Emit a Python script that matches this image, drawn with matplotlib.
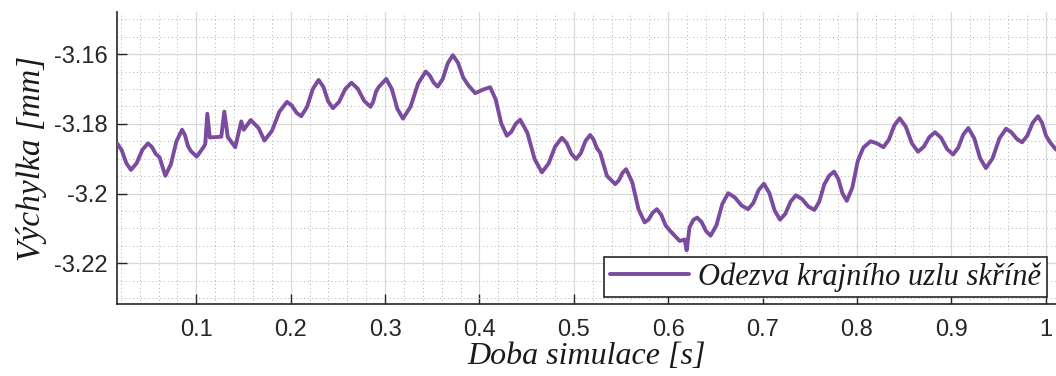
import matplotlib
matplotlib.use("Agg")
import matplotlib.pyplot as plt
from matplotlib.ticker import MultipleLocator, FixedLocator, FixedFormatter

# Simulated response of the cabinet's end node
time_s = [
    0.0160, 0.0209, 0.0259, 0.0308, 0.0368, 0.0428, 0.0488, 0.0529, 0.0570,
    0.0611, 0.0672, 0.0731, 0.0790, 0.0849, 0.0880, 0.0911, 0.0942, 0.1005,
    0.1074, 0.1095, 0.1117, 0.1143, 0.1265, 0.1297, 0.1334, 0.1413, 0.1477,
    0.1503, 0.1577, 0.1660, 0.1722, 0.1802, 0.1881, 0.1961, 0.2011, 0.2062,
    0.2112, 0.2173, 0.2235, 0.2296, 0.2347, 0.2397, 0.2448, 0.2513, 0.2579,
    0.2644, 0.2711, 0.2779, 0.2846, 0.2874, 0.2903, 0.2931, 0.3013, 0.3072,
    0.3131, 0.3190, 0.3270, 0.3351, 0.3431, 0.3473, 0.3516, 0.3558, 0.3612,
    0.3665, 0.3719, 0.3774, 0.3830, 0.3885, 0.3956, 0.4035, 0.4114, 0.4173,
    0.4232, 0.4291, 0.4338, 0.4385, 0.4432, 0.4509, 0.4585, 0.4662, 0.4733,
    0.4803, 0.4874, 0.4924, 0.4975, 0.5025, 0.5075, 0.5124, 0.5174, 0.5209,
    0.5245, 0.5280, 0.5351, 0.5439, 0.5478, 0.5516, 0.5555, 0.5620, 0.5686,
    0.5751, 0.5794, 0.5837, 0.5880, 0.5927, 0.5974, 0.6021, 0.6122, 0.6175,
    0.6196, 0.6226, 0.6266, 0.6307, 0.6355, 0.6402, 0.6450, 0.6512, 0.6574,
    0.6636, 0.6706, 0.6777, 0.6847, 0.6903, 0.6959, 0.7015, 0.7072, 0.7129,
    0.7186, 0.7242, 0.7298, 0.7354, 0.7419, 0.7485, 0.7550, 0.7602, 0.7654,
    0.7706, 0.7758, 0.7803, 0.7848, 0.7893, 0.7952, 0.8010, 0.8069, 0.8145,
    0.8213, 0.8281, 0.8338, 0.8396, 0.8453, 0.8518, 0.8583, 0.8648, 0.8708,
    0.8768, 0.8828, 0.8892, 0.8955, 0.9019, 0.9073, 0.9127, 0.9181, 0.9243,
    0.9305, 0.9367, 0.9438, 0.9510, 0.9581, 0.9637, 0.9694, 0.9750, 0.9806,
    0.9863, 0.9919, 0.9962, 1.0004, 1.0047, 1.0110,
]
displacement_mm = [
    -3.1856, -3.1875, -3.1913, -3.1932, -3.1913, -3.1875, -3.1856, -3.1866, -3.1886,
    -3.1896, -3.1949, -3.1916, -3.1850, -3.1817, -3.1832, -3.1863, -3.1878, -3.1894,
    -3.1868, -3.1858, -3.1771, -3.1839, -3.1837, -3.1765, -3.1838, -3.1867, -3.1793,
    -3.1817, -3.1789, -3.1812, -3.1848, -3.1820, -3.1765, -3.1737, -3.1747, -3.1768,
    -3.1778, -3.1752, -3.1700, -3.1674, -3.1694, -3.1735, -3.1755, -3.1737, -3.1700,
    -3.1682, -3.1699, -3.1734, -3.1751, -3.1737, -3.1709, -3.1695, -3.1671, -3.1700,
    -3.1757, -3.1785, -3.1751, -3.1684, -3.1650, -3.1661, -3.1682, -3.1693, -3.1671,
    -3.1626, -3.1603, -3.1625, -3.1668, -3.1690, -3.1712, -3.1702, -3.1695, -3.1730,
    -3.1799, -3.1834, -3.1823, -3.1800, -3.1788, -3.1826, -3.1901, -3.1939, -3.1914,
    -3.1865, -3.1840, -3.1855, -3.1886, -3.1901, -3.1884, -3.1849, -3.1832, -3.1845,
    -3.1870, -3.1883, -3.1949, -3.1973, -3.1962, -3.1941, -3.1930, -3.1968, -3.2045,
    -3.2083, -3.2074, -3.2055, -3.2045, -3.2061, -3.2092, -3.2107, -3.2136, -3.2132,
    -3.2163, -3.2098, -3.2076, -3.2069, -3.2082, -3.2108, -3.2121, -3.2091, -3.2030,
    -3.1999, -3.2011, -3.2034, -3.2045, -3.2027, -3.1990, -3.1972, -3.1998, -3.2049,
    -3.2075, -3.2058, -3.2023, -3.2005, -3.2016, -3.2037, -3.2047, -3.2023, -3.1974,
    -3.1949, -3.1937, -3.1958, -3.2000, -3.2021, -3.1983, -3.1906, -3.1868, -3.1850,
    -3.1856, -3.1867, -3.1846, -3.1805, -3.1784, -3.1808, -3.1856, -3.1880, -3.1866,
    -3.1838, -3.1824, -3.1840, -3.1872, -3.1888, -3.1869, -3.1831, -3.1812, -3.1841,
    -3.1898, -3.1927, -3.1899, -3.1842, -3.1814, -3.1824, -3.1843, -3.1853, -3.1834,
    -3.1797, -3.1778, -3.1797, -3.1834, -3.1853, -3.1874,
]

x_ticks = [0.1, 0.2, 0.3, 0.4, 0.5, 0.6, 0.7, 0.8, 0.9, 1.0]
x_tick_labels = ["0.1", "0.2", "0.3", "0.4", "0.5", "0.6", "0.7", "0.8", "0.9", "1"]
y_ticks = [-3.22, -3.20, -3.18, -3.16]
y_tick_labels = ["-3.22", "-3.2", "-3.18", "-3.16"]

series_label = "Odezva krajního uzlu skříně"
x_label = "Doba simulace [s]"
y_label = "Výchylka [mm]"

line_color = "#7b4b9f"
axis_color = "#262626"
label_font = ["Liberation Serif", "DejaVu Serif"]
tick_font = ["Liberation Sans", "DejaVu Sans"]

fig = plt.figure(figsize=(10.56, 3.76), dpi=100)
ax = fig.add_axes([117 / 1056, 1 - 304 / 376, 1 - 117 / 1056, (304 - 12) / 376])

ax.plot(time_s, displacement_mm, color=line_color, linewidth=2.8,
        solid_joinstyle="round", solid_capstyle="round",
        label=series_label, zorder=3)

ax.set_xlim(0.0160, 1.0110)
ax.set_ylim(-3.2317, -3.1479)

ax.xaxis.set_major_locator(FixedLocator(x_ticks))
ax.xaxis.set_major_formatter(FixedFormatter(x_tick_labels))
ax.yaxis.set_major_locator(FixedLocator(y_ticks))
ax.yaxis.set_major_formatter(FixedFormatter(y_tick_labels))
ax.xaxis.set_minor_locator(MultipleLocator(0.02))
ax.yaxis.set_minor_locator(MultipleLocator(0.005))

ax.grid(which="major", color="#d9d9d9", linewidth=0.9, linestyle="-", zorder=0)
ax.grid(which="minor", color="#b0b0b0", linewidth=0.7, linestyle=(0, (1, 3)), zorder=0)
ax.set_axisbelow(True)

for side in ("top", "right"):
    ax.spines[side].set_visible(False)
for side in ("left", "bottom"):
    ax.spines[side].set_color(axis_color)
    ax.spines[side].set_linewidth(1.2)

ax.tick_params(which="major", direction="in", length=7, width=1.0,
               color=axis_color, labelcolor=axis_color, labelsize=17)
ax.tick_params(which="minor", length=0)
ax.tick_params(axis="x", pad=11)
ax.tick_params(axis="y", pad=7)
for lbl in ax.get_xticklabels() + ax.get_yticklabels():
    lbl.set_family(tick_font)

ax.set_xlabel(x_label, family=label_font, style="italic", fontsize=23,
              color="#1a1a1a", labelpad=0.5)
ax.set_ylabel(y_label, family=label_font, style="italic", fontsize=24,
              color="#1a1a1a", labelpad=5)

leg = ax.legend(loc="lower left", bbox_to_anchor=(604 / 1056, 79 / 376),
                bbox_transform=fig.transFigure,
                prop={"family": label_font, "style": "italic", "size": 22},
                frameon=True, fancybox=False, framealpha=1.0,
                edgecolor=axis_color, borderpad=0.18, handlelength=2.6,
                handletextpad=0.3, borderaxespad=0)
leg.get_frame().set_linewidth(1.2)
for txt in leg.get_texts():
    txt.set_color("#1a1a1a")

fig.savefig("out.png", dpi=100)
